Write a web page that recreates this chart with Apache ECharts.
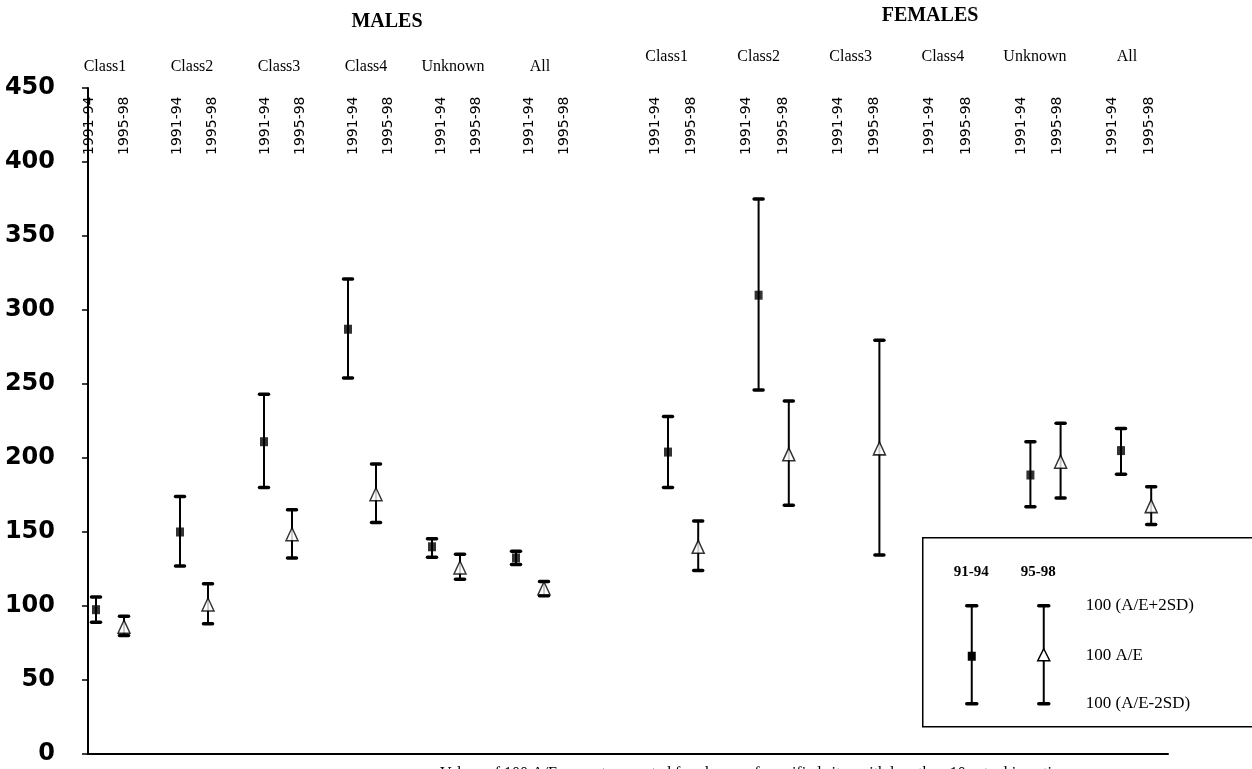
<!DOCTYPE html>
<html><head><meta charset="utf-8">
<script src="https://cdn.jsdelivr.net/npm/echarts@6/dist/echarts.min.js"></script>
<style>html,body{margin:0;padding:0;background:#fff;}#c{width:1252px;height:769px;}</style>
</head><body><div id="c"></div><script>
// ---- data ----
const classes = ['Class1', 'Class2', 'Class3', 'Class4', 'Unknown', 'All'];
const periods = ['1991-94', '1995-98'];
const yTicks = [0, 50, 100, 150, 200, 250, 300, 350, 400, 450];

const male91Mean = [97.5, 150, 211, 287, 140, 132.5];
const male91Low  = [89, 127, 180, 254, 133, 128];
const male91High = [106, 174, 243, 321, 145.5, 137];
const male95Mean = [86, 101, 148.5, 175.5, 126, 112];
const male95Low  = [80, 88, 132.5, 156.5, 118, 107];
const male95High = [93, 115, 165, 196, 135, 116.5];

const female91Mean = [204, 310, null, null, 188.5, 205];
const female91Low  = [180, 246, null, null, 167, 189];
const female91High = [228, 375, null, null, 211, 220];
const female95Mean = [140, 202.5, 206.5, null, 197.5, 167.5];
const female95Low  = [124, 168, 134.5, null, 173, 155];
const female95High = [157.5, 238.5, 279.5, null, 223.5, 180.5];

const groupTitles = ['MALES', 'FEMALES'];
const legendPeriods = ['91-94', '95-98'];
const legendLabels = ['100 (A/E+2SD)', '100 A/E', '100 (A/E-2SD)'];
const footNote = 'Values of 100 A/E are not presented for classes of specified sites with less than 10 actual insertions';

// ---- helpers ----
const slots = [];          // data slots: 91, 95, gap per class
classes.forEach(c => { periods.forEach(p => slots.push(c + '|' + p)); slots.push(c + '|'); });
const labelSlots = [];     // header label slots: 91, -, 95, -, - per class
classes.forEach(c => { labelSlots.push(c + '|' + periods[0], c + '|a', c + '|' + periods[1], c + '|b', c + '|c'); });
function slotIndex(ci, pi) { return ci * 3 + pi; }
function errData(low, high) {
  const out = [];
  [0, 1].forEach(pi => {
    const L = low[pi], H = high[pi];
    L.forEach((v, ci) => { if (v != null) out.push([slotIndex(ci, pi), v, H[ci]]); });
  });
  return out;
}
function meanData(mean, pi) {
  const out = [];
  mean.forEach((v, ci) => { if (v != null) out.push([slotIndex(ci, pi), v]); });
  return out;
}
function renderErr(params, api) {
  const x = api.value(0);
  const lo = api.coord([x, api.value(1)]);
  const hi = api.coord([x, api.value(2)]);
  const cw = 4.5;
  return { type: 'group', children: [
    { type: 'line', shape: { x1: lo[0], y1: lo[1], x2: hi[0], y2: hi[1] }, style: { stroke: '#000', lineWidth: 2 } },
    { type: 'line', shape: { x1: hi[0] - cw, y1: hi[1], x2: hi[0] + cw, y2: hi[1] }, style: { stroke: '#000', lineWidth: 3.5, lineCap: 'round' } },
    { type: 'line', shape: { x1: lo[0] - cw, y1: lo[1], x2: lo[0] + cw, y2: lo[1] }, style: { stroke: '#000', lineWidth: 3.5, lineCap: 'round' } }
  ] };
}

const serif = '"Liberation Serif","Times New Roman",serif';
const grids = [
  { left: 88, right: 84, top: 88, bottom: 15 },          // 0 frame
  { left: 82, width: 504, top: 88, bottom: 15 },         // 1 males data
  { left: 652.9, width: 543.6, top: 88, bottom: 15 },    // 2 females data
  { left: 61.5, width: 522, top: 77, height: 1 },        // 3 males class headers
  { left: 620.5, width: 552.5, top: 67, height: 1 },     // 4 females class headers
  { left: 80.2, width: 528, top: 157, height: 1 },       // 5 males period headers
  { left: 645.85, width: 549, top: 157, height: 1 }      // 6 females period headers
];
const periodAxis = (gi) => ({
  type: 'category', gridIndex: gi, data: labelSlots, position: 'top',
  axisLine: { show: false }, axisTick: { show: false },
  axisLabel: { interval: 0, rotate: 90, margin: 2, fontSize: 14, fontFamily: 'DejaVu Sans', color: '#000',
    formatter: v => { const p = v.split('|')[1]; return periods.indexOf(p) >= 0 ? p : ''; } }
});
const slotAxis = (gi) => ({ type: 'category', gridIndex: gi, data: slots, show: false });
const classAxis = (gi) => ({
  type: 'category', gridIndex: gi, data: classes, position: 'top',
  axisLine: { show: false }, axisTick: { show: false },
  axisLabel: { interval: 0, margin: 2, fontSize: 16, fontFamily: serif, color: '#000' }
});
const hiddenY = (gi) => ({ type: 'value', gridIndex: gi, min: 0, max: 450, show: false });
const triStyle = { color: '#fff', borderColor: '#000', borderWidth: 1.5 };

const option = {
  backgroundColor: '#fff',
  animation: false,
  grid: grids,
  xAxis: [
    { type: 'value', gridIndex: 0, min: 0, max: 1, splitLine: { show: false },
      axisLine: { show: true, lineStyle: { color: '#000', width: 2 } }, axisTick: { show: false }, axisLabel: { show: false } },
    slotAxis(1), slotAxis(2), classAxis(3), classAxis(4), periodAxis(5), periodAxis(6)
  ],
  yAxis: [
    { type: 'value', gridIndex: 0, min: yTicks[0], max: yTicks[yTicks.length - 1], interval: 50,
      splitLine: { show: false },
      axisLine: { show: true, lineStyle: { color: '#000', width: 2 } },
      axisTick: { show: true, length: 6, lineStyle: { color: '#000', width: 1.5 } },
      axisLabel: { margin: 33, fontSize: 24, fontWeight: 'bold', fontFamily: 'DejaVu Sans', color: '#000' } },
    hiddenY(1), hiddenY(2), hiddenY(3), hiddenY(4), hiddenY(5), hiddenY(6)
  ],
  series: [
    { type: 'custom', xAxisIndex: 1, yAxisIndex: 1, renderItem: renderErr, data: errData([male91Low, male95Low], [male91High, male95High]) },
    { type: 'custom', xAxisIndex: 2, yAxisIndex: 2, renderItem: renderErr, data: errData([female91Low, female95Low], [female91High, female95High]) },
    { type: 'scatter', xAxisIndex: 1, yAxisIndex: 1, symbol: 'rect', symbolSize: [8, 9], itemStyle: { color: '#000' }, data: meanData(male91Mean, 0), z: 5 },
    { type: 'scatter', xAxisIndex: 1, yAxisIndex: 1, symbol: 'triangle', symbolSize: [12, 13], itemStyle: triStyle, data: meanData(male95Mean, 1), z: 5 },
    { type: 'scatter', xAxisIndex: 2, yAxisIndex: 2, symbol: 'rect', symbolSize: [8, 9], itemStyle: { color: '#000' }, data: meanData(female91Mean, 0), z: 5 },
    { type: 'scatter', xAxisIndex: 2, yAxisIndex: 2, symbol: 'triangle', symbolSize: [12, 13], itemStyle: triStyle, data: meanData(female95Mean, 1), z: 5 }
  ],
  graphic: [
    { type: 'text', x: 387, y: 22, style: { text: groupTitles[0], font: 'bold 20px ' + serif, fill: '#000', textAlign: 'center', textVerticalAlign: 'middle' } },
    { type: 'text', x: 930, y: 16, style: { text: groupTitles[1], font: 'bold 20px ' + serif, fill: '#000', textAlign: 'center', textVerticalAlign: 'middle' } },
    { type: 'text', left: 440, top: 766, style: { text: footNote, font: '16px ' + serif, fill: '#000' } },
    { type: 'group', left: 922, top: 537, children: [
      { type: 'rect', shape: { x: 0, y: 0, width: 360, height: 189 }, style: { fill: '#fff', stroke: '#000', lineWidth: 1.5 } },
      { type: 'text', x: 31, y: 27, style: { text: legendPeriods[0], font: 'bold 15px ' + serif, fill: '#000' } },
      { type: 'text', x: 98, y: 27, style: { text: legendPeriods[1], font: 'bold 15px ' + serif, fill: '#000' } },
      { type: 'line', shape: { x1: 49, y1: 68, x2: 49, y2: 166 }, style: { stroke: '#000', lineWidth: 2 } },
      { type: 'line', shape: { x1: 44, y1: 68, x2: 54, y2: 68 }, style: { stroke: '#000', lineWidth: 3.5, lineCap: 'round' } },
      { type: 'line', shape: { x1: 44, y1: 166, x2: 54, y2: 166 }, style: { stroke: '#000', lineWidth: 3.5, lineCap: 'round' } },
      { type: 'rect', shape: { x: 45, y: 114, width: 8, height: 9 }, style: { fill: '#000' } },
      { type: 'line', shape: { x1: 121, y1: 68, x2: 121, y2: 166 }, style: { stroke: '#000', lineWidth: 2 } },
      { type: 'line', shape: { x1: 116, y1: 68, x2: 126, y2: 68 }, style: { stroke: '#000', lineWidth: 3.5, lineCap: 'round' } },
      { type: 'line', shape: { x1: 116, y1: 166, x2: 126, y2: 166 }, style: { stroke: '#000', lineWidth: 3.5, lineCap: 'round' } },
      { type: 'polygon', shape: { points: [[121, 111], [127, 123], [115, 123]] }, style: { fill: '#fff', stroke: '#000', lineWidth: 1.5 } },
      { type: 'text', x: 163, y: 59, style: { text: legendLabels[0], font: '17px ' + serif, fill: '#000' } },
      { type: 'text', x: 163, y: 109, style: { text: legendLabels[1], font: '17px ' + serif, fill: '#000' } },
      { type: 'text', x: 163, y: 157, style: { text: legendLabels[2], font: '17px ' + serif, fill: '#000' } }
    ] }
  ]
};
echarts.init(document.getElementById('c'), null, { renderer: 'canvas' }).setOption(option);
</script></body></html>
